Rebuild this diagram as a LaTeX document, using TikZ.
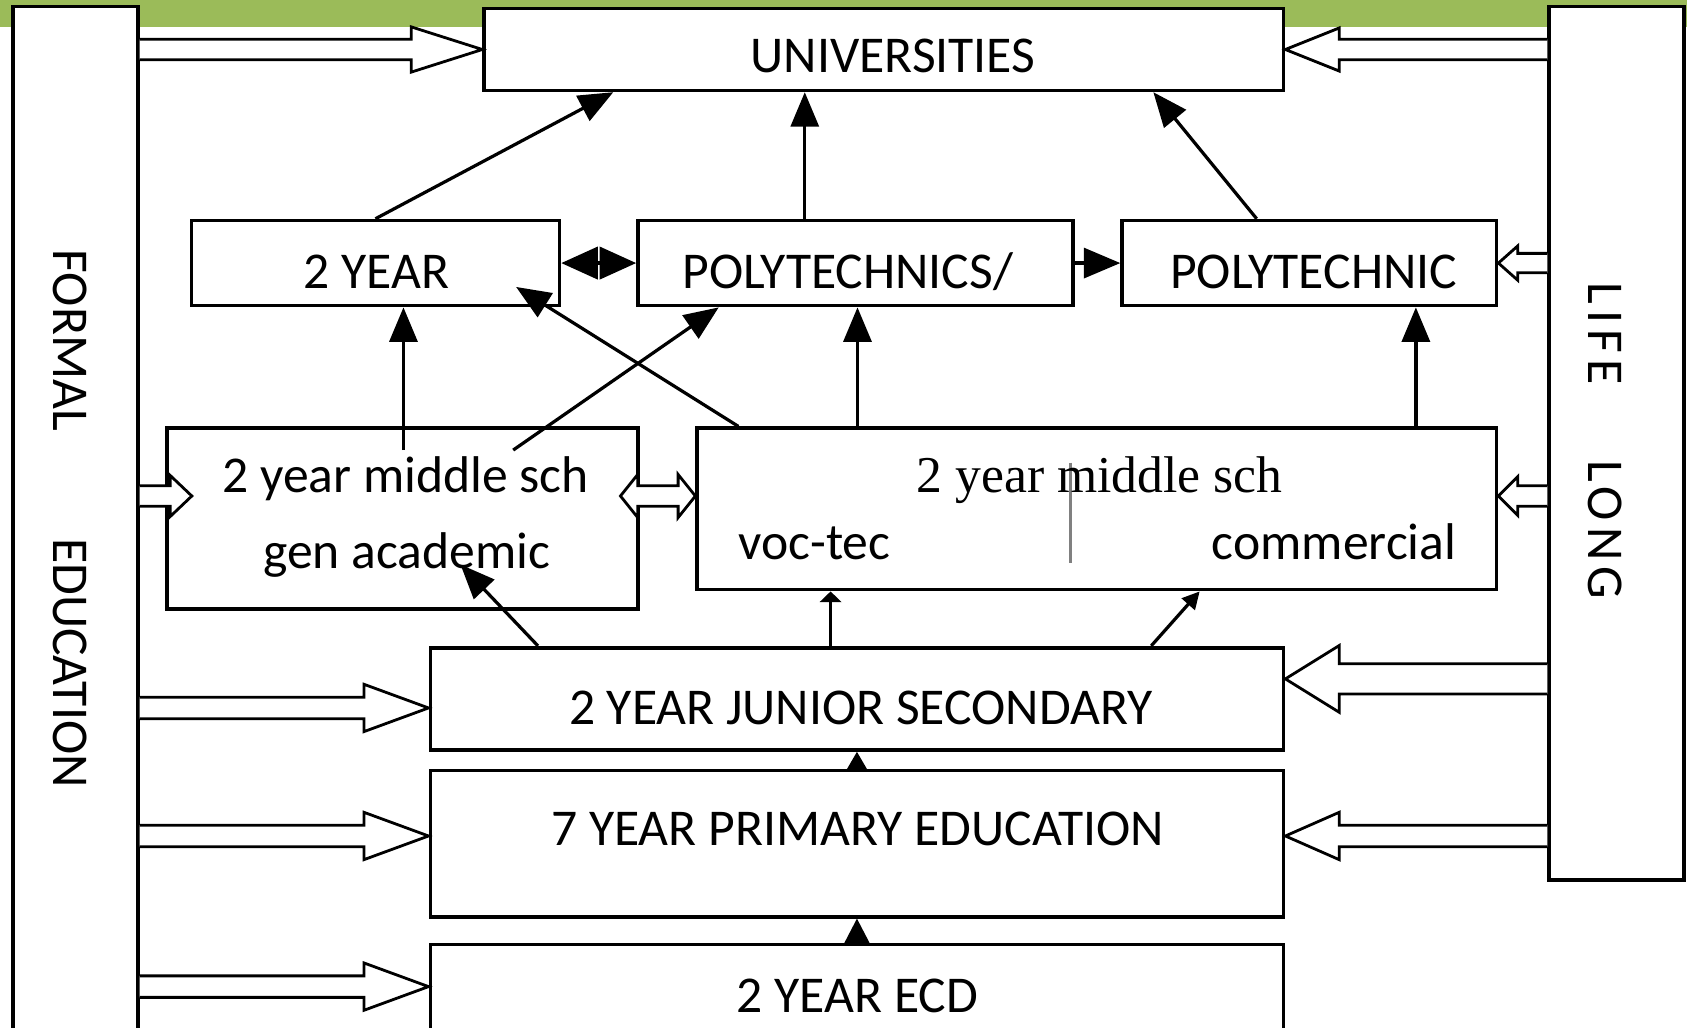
\documentclass[tikz,border=0pt]{standalone}
\usepackage{fontspec}
\setmainfont{Carlito}
\newfontfamily\serifface{Liberation Serif}
\newfontfamily\trackedface[LetterSpace=12]{Carlito}
\usetikzlibrary{arrows.meta,calc}

\definecolor{bandgreen}{HTML}{9BBB59}
\definecolor{dividergray}{gray}{0.5}

\tikzset{
  box/.style={draw=black, fill=white, line width=1.7pt, inner sep=0pt},
  bar/.style={draw=black, fill=white, line width=1.7pt, inner sep=0pt},
  txt/.style={inner sep=0pt, font=\fontsize{24}{29}\selectfont},
  hollow/.style={draw=black, fill=white, line width=1.3pt, line join=miter},
  link/.style={line width=1.5pt, -{Triangle[length=16pt,width=13pt]}},
  thinlink/.style={line width=1.5pt},
}

% hollow block arrow: #1 source anchor (its x is used), #2 tip,
% #3 direction (1 = to the right, -1 = to the left),
% #4 shaft half width, #5 head half width, #6 head length
\newcommand{\blockarrow}[6]{%
  \draw[hollow] let \p1=(#1), \p2=(#2), \n1={#3*#6} in
    (\x1,{\y2+#4}) -- ({\x2-\n1},{\y2+#4}) -- ({\x2-\n1},{\y2+#5}) -- (\x2,\y2)
    -- ({\x2-\n1},{\y2-#5}) -- ({\x2-\n1},{\y2-#4}) -- (\x1,{\y2-#4});}

\begin{document}
\begin{tikzpicture}[x=0.5pt,y=-0.5pt]
\useasboundingbox (0,0) rectangle (1568,955);

% green title band
\fill[bandgreen] (0,0) rectangle (1568,25);

% side bars
\node[bar, minimum width=58pt, minimum height=482pt] (formal) at (70,488) {};
\node[bar, minimum width=62.5pt, minimum height=406pt] (lifelong) at (1502.5,412) {};

% boxes
\node[box, minimum width=371.5pt, minimum height=38pt] (univ) at (821.5,46) {};
\node[box, minimum width=171pt, minimum height=39.5pt] (twoyear) at (349,244.5) {};
\node[box, minimum width=202pt, minimum height=39.5pt] (polys) at (795,244.5) {};
\node[box, minimum width=174pt, minimum height=39.5pt] (poly) at (1217,244.5) {};
\node[box, minimum width=219pt, minimum height=84pt] (midL) at (374,482) {};
\node[box, minimum width=371.5pt, minimum height=75pt] (midR) at (1019.5,473) {};
\node[box, minimum width=396.5pt, minimum height=47.5pt] (jss) at (796.5,649.5) {};
\node[box, minimum width=396.5pt, minimum height=68pt] (prim) at (796.5,784) {};
\node[box, minimum width=396.5pt, minimum height=47pt] (ecd) at (796.5,925) {};

% divider inside the vocational box
\draw[dividergray, line width=1.8pt] ($(midR.center)+(-24.5,-43)$) -- ($(midR.center)+(-24.5,50)$);

% labels
\node[txt, anchor=base] (univtxt) at (830,67) {UNIVERSITIES};
\node[txt, anchor=base] (twoyeartxt) at (350,268) {2 YEAR};
\node[txt, anchor=base] (polystxt) at (788,268) {POLYTECHNICS/};
\node[txt, anchor=base] (polytxt) at (1221,268) {POLYTECHNIC};
\node[txt, anchor=base] (midLa) at (377,458) {2 year middle sch};
\node[txt, anchor=base] (midLb) at (378,528) {gen academic};
\node[txt, anchor=base, font=\serifface\fontsize{24}{29}\selectfont] (midRtitle) at (1022,458) {2 year middle sch};
\node[txt, anchor=base] (voctec) at (757,520) {voc-tec};
\node[txt, anchor=base] (commercial) at (1240,520) {commercial};
\node[txt, anchor=base] (jsstxt) at (800,673) {2 YEAR JUNIOR SECONDARY};
\node[txt, anchor=base] (primtxt) at (797,786) {7 YEAR PRIMARY EDUCATION};
\node[txt, anchor=base] (ecdtxt) at (797,941) {2 YEAR ECD};
\node[txt, rotate=-90] (formaltxt) at (65,482) {FORMAL\hspace{50pt}EDUCATION};
\node[txt, rotate=-90, font=\trackedface\fontsize{24}{29}\selectfont] (lifetxt) at (1492,410) {LIFE\hspace{35pt}LONG};

% hollow arrows from the formal education bar
\blockarrow{formal.east}{univ.west}{1}{4.75pt}{10.5pt}{33pt}
\blockarrow{formal.east}{$(midL.west)+(25,-21)$}{1}{4.75pt}{9.5pt}{10pt}
\blockarrow{formal.east}{$(jss.west)+(0,8.5)$}{1}{5pt}{11pt}{30pt}
\blockarrow{formal.east}{$(prim.west)+(0,-7)$}{1}{5pt}{11pt}{30pt}
\blockarrow{formal.east}{$(ecd.west)+(0,-8)$}{1}{5pt}{11pt}{30pt}

% hollow arrows from the life long bar
\blockarrow{lifelong.west}{univ.east}{-1}{4.75pt}{10pt}{25pt}
\blockarrow{lifelong.west}{poly.east}{-1}{4.5pt}{8pt}{9pt}
\blockarrow{lifelong.west}{$(midR.east)+(0,-12)$}{-1}{4.75pt}{9pt}{9pt}
\blockarrow{lifelong.west}{$(jss.east)+(0,-18.5)$}{-1}{7pt}{15.5pt}{25pt}
\blockarrow{lifelong.west}{$(prim.east)+(0,-7)$}{-1}{5pt}{11pt}{25pt}

% two-way hollow arrow between the middle schools
\draw[hollow] let \p1=($(midL.east)+(-18,-21)$), \p2=($(midR.west)+(0,-12)$) in
  (\x1,\y1) -- ({\x1+8pt},{\y1+10pt}) -- ({\x1+8pt},{\y1+4.75pt}) -- ({\x2-8pt},{\y1+4.75pt})
  -- ({\x2-8pt},{\y1+10pt}) -- (\x2,\y1) -- ({\x2-8pt},{\y1-10pt}) -- ({\x2-8pt},{\y1-4.75pt})
  -- ({\x1+8pt},{\y1-4.75pt}) -- ({\x1+8pt},{\y1-10pt}) -- cycle;

% inner start points of the academic stream
\coordinate (acadA) at ($(midL.north)+(1,22)$);
\coordinate (acadB) at ($(midL.north)+(103,22)$);
\coordinate (acadTip) at ($(midL.south)+(54,-43)$);

% progression links
\draw[link] (twoyear.north) -- ($(univ.south)+(-251.5,0)$);
\draw[link] ($(polys.north)+(-47,0)$) -- ($(univ.south)+(-73.5,0)$);
\draw[link] ($(poly.north)+(-49,0)$) -- ($(univ.south)+(250.5,0)$);
\draw[thinlink, {Triangle[length=17pt,width=15pt]}-{Triangle[length=17pt,width=15pt]}] (twoyear.east) -- (polys.west);
\draw[thinlink, -{Triangle[length=17pt,width=14pt]}] (polys.east) -- (poly.west);
\draw[link] (acadA) -- ($(twoyear.south)+(26,0)$);
\draw[link] (acadB) -- ($(polys.south)+(-127,0)$);
\draw[link] ($(midR.north west)+(40,0)$) -- ($(twoyear.south east)+(-42,-19)$);
\draw[link] ($(midR.north)+(-222.5,0)$) -- ($(polys.south)+(2,0)$);
\draw[link] ($(midR.north)+(296.5,0)$) -- ($(poly.south)+(99,0)$);
\draw[link] ($(jss.north)+(-296.5,0)$) -- (acadTip);
\draw[thinlink, -{Triangle[length=5pt,width=10pt]}] ($(jss.north)+(-24.5,0)$) -- ($(midR.south)+(-247.5,0)$);
\draw[thinlink, -{Triangle[length=8pt,width=8pt]}] ($(jss.north)+(273.5,0)$) -- ($(midR.south)+(95.5,0)$);
\draw[thinlink, -{Triangle[length=9pt,width=10pt]}] (prim.north) -- (jss.south);
\draw[thinlink, -{Triangle[length=12pt,width=12pt]}] (ecd.north) -- (prim.south);
\end{tikzpicture}
\end{document}
